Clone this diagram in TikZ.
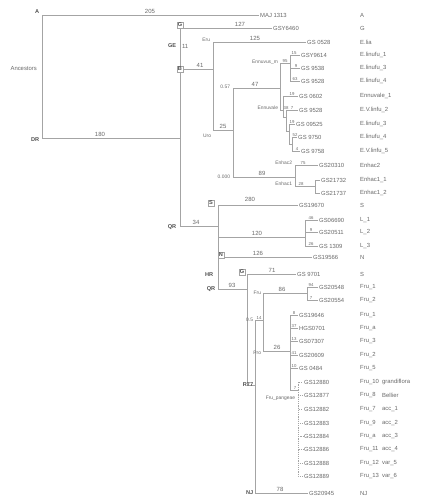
\documentclass[tikz,border=0pt]{standalone}
\usepackage{fontspec}
\setmainfont{Liberation Sans}
\definecolor{ln}{HTML}{A4A4A4}
\definecolor{tx}{HTML}{6A6A6A}
\definecolor{tk}{HTML}{505050}
\begin{document}
\begin{tikzpicture}[x=1pt,y=-1pt,
  br/.style={draw=ln,line width=0.7pt},
  dbr/.style={draw=ln,line width=0.6pt,dash pattern=on 1.2pt off 1pt},
  leaf/.style={anchor=west,inner sep=1pt,text=tx,font=\fontsize{5.9}{6.5}\selectfont},
  rc/.style={anchor=west,inner sep=0pt,text=tx,font=\fontsize{5.9}{6.5}\selectfont},
  bs/.style={inner sep=0.3pt,text=tx,font=\fontsize{4.3}{4.8}\selectfont},
  bl/.style={anchor=south,inner sep=0.8pt,text=tx,font=\fontsize{6}{6.5}\selectfont},
  cl/.style={anchor=east,inner sep=0.8pt,text=tx,font=\fontsize{4.9}{5.5}\selectfont},
  nl/.style={inner sep=0.6pt,text=tk,font=\bfseries\fontsize{5.6}{6}\selectfont},
  nb/.style={nl,draw=ln,fill=white,line width=0.3pt,minimum size=6.5pt}]
\useasboundingbox (0,0) rectangle (420,500);
\fill[white] (0,0) rectangle (420,500);

% internal nodes
\coordinate (root) at (42,69);
\coordinate (nX) at (180,138);
\coordinate (nB) at (213,69);
\coordinate (n25) at (233,130);
\coordinate (n47) at (280,88);
\coordinate (nEm) at (290,63);
\coordinate (nEv) at (283,110);
\coordinate (nE2) at (286,117);
\coordinate (nE3) at (289,131);
\coordinate (nE4) at (292,144);
\coordinate (nEh) at (295,177);
\coordinate (nE1) at (315,186);
\coordinate (nQ) at (218,226);
\coordinate (nL) at (305,237);
\coordinate (nG2) at (247,289);
\coordinate (nR) at (255,385);
\coordinate (n14) at (263,320);
\coordinate (nFr) at (307,293);
\coordinate (nPro) at (290,351);
\coordinate (nFp) at (298,390);

% leaves
\node[leaf] (lA) at (259,15) {MAJ 1313};
\node[leaf] (lG) at (272,28) {GSY6460};
\node[leaf] (lEru) at (306,42) {GS 0528};
\node[leaf] (l55) at (300,55) {GSY9614};
\node[leaf] (l68) at (300,68) {GS 9538};
\node[leaf] (l81) at (300,81) {GS 9528};
\node[leaf] (l96) at (298,96) {GS 0602};
\node[leaf] (l110) at (298,110) {GS 9528};
\node[leaf] (l124) at (295,124) {GS 09525};
\node[leaf] (l137) at (297,137) {GS 9750};
\node[leaf] (l151) at (300,151) {GS 9758};
\node[leaf] (l165) at (318,165) {GS20310};
\node[leaf] (l180) at (320,180) {GS21732};
\node[leaf] (l193) at (320,193) {GS21737};
\node[leaf] (lS) at (298,205) {GS19670};
\node[leaf] (l220) at (318,220) {GS06690};
\node[leaf] (l232) at (318,232) {GS20511};
\node[leaf] (l246) at (318,246) {GS 1309};
\node[leaf] (lN) at (312,257) {GS19566};
\node[leaf] (lG9) at (296,274) {GS 9701};
\node[leaf] (l287) at (318,287) {GS20548};
\node[leaf] (l300) at (318,300) {GS20554};
\node[leaf] (l315) at (298,315) {GS19646};
\node[leaf] (l328) at (298,328) {HGS0701};
\node[leaf] (l341) at (298,341) {GS07307};
\node[leaf] (l355) at (298,355) {GS20609};
\node[leaf] (l368) at (298,368) {GS 0484};
\node[leaf] (p1) at (303,382) {GS12880};
\node[leaf] (p2) at (303,395) {GS12877};
\node[leaf] (p3) at (303,409) {GS12882};
\node[leaf] (p4) at (303,423) {GS12883};
\node[leaf] (p5) at (303,436) {GS12884};
\node[leaf] (p6) at (303,449) {GS12886};
\node[leaf] (p7) at (303,463) {GS12888};
\node[leaf] (p8) at (303,476) {GS12889};
\node[leaf] (lNJ) at (308,493) {GS20945};
\node[leaf,anchor=east] (anc) at (38,69) {Ancestors};

% branches
\draw[br] (root) |- (lA.west);
\draw[br] (root) |- (nX);
\draw[br] (nX) |- (lG.west);
\draw[br] (nX) |- (nB);
\draw[br] (nX) |- (nQ);
\draw[br] (nB) |- (lEru.west);
\draw[br] (nB) |- (n25);
\draw[br] (n25) |- (n47);
\draw[br] (n25) |- (nEh);
\draw[br] (n47) |- (nEm);
\draw[br] (n47) |- (nEv);
\foreach \l in {l55,l68,l81} \draw[br] (nEm) |- (\l.west);
\draw[br] (nEv) |- (l96.west);
\draw[br] (nEv) |- (nE2);
\draw[br] (nE2) |- (l110.west);
\draw[br] (nE2) |- (nE3);
\draw[br] (nE3) |- (l124.west);
\draw[br] (nE3) |- (nE4);
\draw[br] (nE4) |- (l137.west);
\draw[br] (nE4) |- (l151.west);
\draw[br] (nEh) |- (l165.west);
\draw[br] (nEh) |- (nE1);
\draw[br] (nE1) |- (l180.west);
\draw[br] (nE1) |- (l193.west);
\draw[br] (nQ) |- (lS.west);
\draw[br] (nQ) |- (nL);
\draw[br] (nQ) |- (lN.west);
\draw[br] (nQ) |- (nG2);
\foreach \l in {l220,l232,l246} \draw[br] (nL) |- (\l.west);
\draw[br] (nG2) |- (lG9.west);
\draw[br] (nG2) |- (nR);
\draw[br] (nR) |- (n14);
\draw[br] (nR) |- (lNJ.west);
\draw[br] (n14) |- (nFr);
\draw[br] (n14) |- (nPro);
\draw[br] (nFr) |- (l287.west);
\draw[br] (nFr) |- (l300.west);
\foreach \l in {l315,l328,l341,l355,l368} \draw[br] (nPro) |- (\l.west);
\draw[br] (nPro) |- (nFp);
\foreach \l in {p1,p2,p3,p4,p5,p6,p7,p8} \draw[dbr] (nFp) |- (\l.west);

% branch length labels
\node[bl] at (150,15) {205};
\node[bl] at (100,138) {180};
\node[bl] at (240,28) {127};
\node[bl] at (255,42) {125};
\node[bl] at (200,69) {41};
\node[bl] at (223,130) {25};
\node[bl] at (255,88) {47};
\node[bl] at (262,177) {89};
\node[bl] at (196,226) {34};
\node[bl] at (250,203) {280};
\node[bl] at (257,237) {120};
\node[bl] at (258,257) {126};
\node[bl] at (232,289) {93};
\node[bl] at (272,273) {71};
\node[bl] at (282,293) {86};
\node[bl] at (277,351) {26};
\node[bl] at (280,493) {78};

% small support values
\node[bs,anchor=south] at (285,63) {95};
\node[bs,anchor=south] at (286,110) {38};
\node[bs,anchor=south] at (303,165) {75};
\node[bs,anchor=south] at (301,186) {28};
\node[bs,anchor=south] at (259,320) {14};
\node[bs,anchor=south] at (295,390) {7};
\node[bs] at (294,53) {15};
\node[bs] at (296,66) {9};
\node[bs] at (295,79) {63};
\node[bs] at (292,94) {19};
\node[bs] at (292,108) {7};
\node[bs] at (292,122) {19};
\node[bs] at (295,135) {52};
\node[bs] at (297,149) {4};
\node[bs] at (311,218) {46};
\node[bs] at (311,230) {9};
\node[bs] at (311,244) {26};
\node[bs] at (311,285) {94};
\node[bs] at (311,298) {7};
\node[bs] at (294,313) {8};
\node[bs] at (294,326) {37};
\node[bs] at (294,339) {13};
\node[bs] at (294,353) {41};
\node[bs] at (294,366) {10};

% clade labels
\node[cl] at (211,40) {Eru};
\node[cl] at (212,136) {Uro};
\node[cl] at (231,87) {0.57};
\node[cl] at (231,177) {0.000};
\node[cl] at (279,62) {Ennuvus\_m};
\node[cl] at (279,108) {Ennuvale};
\node[cl] at (293,163) {Enhac2};
\node[cl] at (293,184) {Enhac1};
\node[cl] at (254,320) {0.5};
\node[cl] at (262,293) {Fru};
\node[cl] at (262,353) {Pro};
\node[cl] at (296,398) {Fru\_pangeae};

% node labels
\node[nl,anchor=east] at (40,12) {A};
\node[nl,anchor=east] at (40,140) {DR};
\node[nb] at (180,25) {G};
\node[nl,anchor=east] at (177,46) {GE};
\node[bl,anchor=west] at (181,46) {11};
\node[nb] at (180,69) {B};
\node[nl,anchor=east] at (177,227) {QR};
\node[nb] at (211,203) {S};
\node[nb] at (221,255) {N};
\node[nl,anchor=east] at (214,275) {HR};
\node[nl,anchor=east] at (216,289) {QR};
\node[nb] at (242,272) {G};
\node[nl,anchor=east] at (254,385) {R77};
\node[nl,anchor=east] at (254,493) {NJ};

% right column
\foreach \y/\t in {15/A,28/G,42/E.lia,55/E.linufu\_1,68/E.linufu\_3,81/E.linufu\_4,
  96/Ennuvale\_1,110/E.V.linfu\_2,124/E.linufu\_3,137/E.linufu\_4,151/E.V.linfu\_5,
  165/Enhac2,180/Enhac1\_1,193/Enhac1\_2,205/S,220/L\_1,232/L\_2,246/L\_3,257/N,274/S,
  287/Fru\_1,300/Fru\_2,315/Fru\_1,328/Fru\_a,341/Fru\_3,355/Fru\_2,368/Fru\_5,
  382/Fru\_10,395/Fru\_8,409/Fru\_7,423/Fru\_9,436/Fru\_a,449/Fru\_11,463/Fru\_12,
  476/Fru\_13,493/NJ}
  \node[rc] at (360,\y) {\t};
\foreach \y/\t in {382/grandiflora,395/Bellier,409/acc\_1,423/acc\_2,436/acc\_3,
  449/acc\_4,463/var\_5,476/var\_6}
  \node[rc] at (382,\y) {\t};
\end{tikzpicture}
\end{document}
